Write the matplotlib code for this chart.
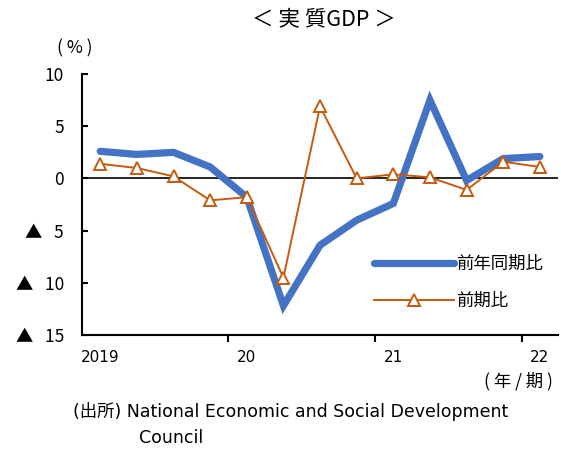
import matplotlib
matplotlib.use("Agg")
import matplotlib.pyplot as plt
import numpy as np

plt.rcParams["font.family"] = ["Noto Sans CJK JP", "DejaVu Sans"]
LATIN = ["DejaVu Sans", "Noto Sans CJK JP"]

# quarterly real GDP growth, 2019Q1 .. 2022Q1
quarters = ["2019Q1", "2019Q2", "2019Q3", "2019Q4",
            "2020Q1", "2020Q2", "2020Q3", "2020Q4",
            "2021Q1", "2021Q2", "2021Q3", "2021Q4",
            "2022Q1"]
yoy = [2.6, 2.3, 2.5, 1.1, -1.8, -12.2, -6.4, -4.0, -2.4, 7.5, -0.2, 1.9, 2.1]
qoq = [1.4, 1.0, 0.2, -2.1, -1.8, -9.5, 6.9, 0.0, 0.4, 0.1, -1.1, 1.6, 1.1]

year_labels = ["2019", "20", "21", "22"]
y_ticks = [10, 5, 0, -5, -10, -15]
y_ticklabels = ["10", "5", "0", "▲   5", "▲   10", "▲   15"]

fig = plt.figure(figsize=(5.61, 4.49), dpi=100)
ax = fig.add_axes([0.146, 0.254, 0.849, 0.581])

x = np.arange(len(quarters))
ax.axhline(0, color="black", lw=1.2, zorder=1)
ax.plot(x, yoy, color="#4472C4", lw=5.2, solid_capstyle="round",
        solid_joinstyle="miter", label="前年同期比", zorder=2)
ax.plot(x, qoq, color="#C55A11", lw=1.4, marker="^", markersize=9,
        markerfacecolor="white", markeredgecolor="#C55A11", markeredgewidth=1.4,
        label="前期比", zorder=3)

ax.set_xlim(-0.5, len(quarters) - 0.5)
ax.set_ylim(-15, 10)
ax.set_yticks(y_ticks)
ax.set_yticklabels(y_ticklabels, fontsize=12.5)
ax.tick_params(axis="y", direction="in", length=4, width=1.5, pad=13)

# year ticks between Q4 and Q1, labels under each Q1
ax.set_xticks([3.5, 7.5, 11.5])
ax.set_xticklabels([])
ax.tick_params(axis="x", direction="out", length=5, width=1.5)
for i, lab in enumerate(year_labels):
    ax.text(i * 4, -16.4, lab, ha="center", va="top", fontsize=11,
            family=LATIN)

for s in ("top", "right"):
    ax.spines[s].set_visible(False)
for s in ("left", "bottom"):
    ax.spines[s].set_linewidth(1.5)

ax.legend(loc="lower right", bbox_to_anchor=(1.0, 0.035), frameon=False,
          fontsize=12.5, handlelength=4.6, handletextpad=0.1, labelspacing=1.1)

fig.text(0.578, 0.958, "＜ 実 質GDP ＞", ha="center", va="center", fontsize=15.5)
fig.text(0.134, 0.893, "( % )", ha="center", va="center", fontsize=12.5)
fig.text(0.985, 0.151, "( 年 / 期 )", ha="right", va="center", fontsize=12.5)
fig.text(0.13, 0.083, "(出所) National Economic and Social Development",
         ha="left", va="center", fontsize=12.5, family=LATIN)
fig.text(0.248, 0.025, "Council", ha="left", va="center", fontsize=12.5,
         family=LATIN)

fig.savefig("out.png", dpi=100)
